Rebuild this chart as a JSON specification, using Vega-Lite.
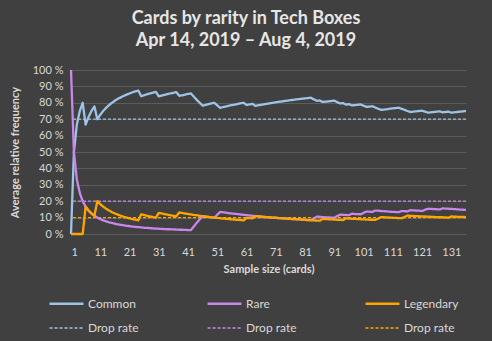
{
 "$schema": "https://vega.github.io/schema/vega-lite/v6.json",
 "width": 395, "height": 164,
 "autosize": {"type": "none"},
 "padding": {"left": 71, "top": 70, "right": 26, "bottom": 107},
 "background": "#404040",
 "title": {"text": ["Cards by rarity in Tech Boxes", "Apr 14, 2019 – Aug 4, 2019"], "font": "Lato", "fontSize": 18, "fontWeight": "bold", "color": "#e6e6e6", "anchor": "middle", "frame": "group", "dx": -22.5, "offset": 14, "lineHeight": 22},
 "config": {
  "view": {"stroke": null},
  "axis": {"labelFont": "Lato", "titleFont": "Lato", "labelColor": "#d9d9d9", "titleColor": "#d9d9d9", "labelFontSize": 11, "titleFontSize": 11, "titleFontWeight": "bold", "domain": false, "ticks": false}
 },
 "datasets": {
  "rates": [{"key": "Drop rate C", "v": 70}, {"key": "Drop rate R", "v": 20}, {"key": "Drop rate L", "v": 10}],
  "freq": [
{"n":1,"Common":0,"Rare":100,"Legendary":0},
{"n":2,"Common":50,"Rare":50,"Legendary":0},
{"n":3,"Common":66.7,"Rare":33.3,"Legendary":0},
{"n":4,"Common":75,"Rare":25,"Legendary":0},
{"n":5,"Common":80,"Rare":20,"Legendary":0},
{"n":6,"Common":66.7,"Rare":16.7,"Legendary":16.7},
{"n":7,"Common":71.4,"Rare":14.3,"Legendary":14.3},
{"n":8,"Common":75,"Rare":12.5,"Legendary":12.5},
{"n":9,"Common":77.8,"Rare":11.1,"Legendary":11.1},
{"n":10,"Common":70,"Rare":10,"Legendary":20},
{"n":11,"Common":72.7,"Rare":9.1,"Legendary":18.2},
{"n":12,"Common":75,"Rare":8.3,"Legendary":16.7},
{"n":13,"Common":76.9,"Rare":7.7,"Legendary":15.4},
{"n":14,"Common":78.6,"Rare":7.1,"Legendary":14.3},
{"n":15,"Common":80,"Rare":6.7,"Legendary":13.3},
{"n":16,"Common":81.3,"Rare":6.3,"Legendary":12.5},
{"n":17,"Common":82.4,"Rare":5.9,"Legendary":11.8},
{"n":18,"Common":83.3,"Rare":5.6,"Legendary":11.1},
{"n":19,"Common":84.2,"Rare":5.3,"Legendary":10.5},
{"n":20,"Common":85,"Rare":5,"Legendary":10},
{"n":21,"Common":85.7,"Rare":4.8,"Legendary":9.5},
{"n":22,"Common":86.4,"Rare":4.5,"Legendary":9.1},
{"n":23,"Common":87,"Rare":4.3,"Legendary":8.7},
{"n":24,"Common":87.5,"Rare":4.2,"Legendary":8.3},
{"n":25,"Common":84,"Rare":4,"Legendary":12},
{"n":26,"Common":84.6,"Rare":3.8,"Legendary":11.5},
{"n":27,"Common":85.2,"Rare":3.7,"Legendary":11.1},
{"n":28,"Common":85.7,"Rare":3.6,"Legendary":10.7},
{"n":29,"Common":86.2,"Rare":3.4,"Legendary":10.3},
{"n":30,"Common":86.7,"Rare":3.3,"Legendary":10},
{"n":31,"Common":83.9,"Rare":3.2,"Legendary":12.9},
{"n":32,"Common":84.4,"Rare":3.1,"Legendary":12.5},
{"n":33,"Common":84.8,"Rare":3,"Legendary":12.1},
{"n":34,"Common":85.3,"Rare":2.9,"Legendary":11.8},
{"n":35,"Common":85.7,"Rare":2.9,"Legendary":11.4},
{"n":36,"Common":86.1,"Rare":2.8,"Legendary":11.1},
{"n":37,"Common":86.5,"Rare":2.7,"Legendary":10.8},
{"n":38,"Common":84.2,"Rare":2.6,"Legendary":13.2},
{"n":39,"Common":84.6,"Rare":2.6,"Legendary":12.8},
{"n":40,"Common":85,"Rare":2.5,"Legendary":12.5},
{"n":41,"Common":85.4,"Rare":2.4,"Legendary":12.2},
{"n":42,"Common":85.7,"Rare":2.4,"Legendary":11.9},
{"n":43,"Common":83.7,"Rare":4.7,"Legendary":11.6},
{"n":44,"Common":81.8,"Rare":6.8,"Legendary":11.4},
{"n":45,"Common":80,"Rare":8.9,"Legendary":11.1},
{"n":46,"Common":78.3,"Rare":10.9,"Legendary":10.9},
{"n":47,"Common":78.7,"Rare":10.6,"Legendary":10.6},
{"n":48,"Common":79.2,"Rare":10.4,"Legendary":10.4},
{"n":49,"Common":79.6,"Rare":10.2,"Legendary":10.2},
{"n":50,"Common":80,"Rare":10,"Legendary":10},
{"n":51,"Common":78.4,"Rare":11.8,"Legendary":9.8},
{"n":52,"Common":76.9,"Rare":13.5,"Legendary":9.6},
{"n":53,"Common":77.4,"Rare":13.2,"Legendary":9.4},
{"n":54,"Common":77.8,"Rare":13,"Legendary":9.3},
{"n":55,"Common":78.2,"Rare":12.7,"Legendary":9.1},
{"n":56,"Common":78.6,"Rare":12.5,"Legendary":8.9},
{"n":57,"Common":78.9,"Rare":12.3,"Legendary":8.8},
{"n":58,"Common":79.3,"Rare":12.1,"Legendary":8.6},
{"n":59,"Common":79.7,"Rare":11.9,"Legendary":8.5},
{"n":60,"Common":80,"Rare":11.7,"Legendary":8.3},
{"n":61,"Common":78.7,"Rare":11.5,"Legendary":9.8},
{"n":62,"Common":79,"Rare":11.3,"Legendary":9.7},
{"n":63,"Common":79.4,"Rare":11.1,"Legendary":9.5},
{"n":64,"Common":78.1,"Rare":10.9,"Legendary":10.9},
{"n":65,"Common":78.5,"Rare":10.8,"Legendary":10.8},
{"n":66,"Common":78.8,"Rare":10.6,"Legendary":10.6},
{"n":67,"Common":79.1,"Rare":10.4,"Legendary":10.4},
{"n":68,"Common":79.4,"Rare":10.3,"Legendary":10.3},
{"n":69,"Common":79.7,"Rare":10.1,"Legendary":10.1},
{"n":70,"Common":80,"Rare":10,"Legendary":10},
{"n":71,"Common":80.3,"Rare":9.9,"Legendary":9.9},
{"n":72,"Common":80.6,"Rare":9.7,"Legendary":9.7},
{"n":73,"Common":80.8,"Rare":9.6,"Legendary":9.6},
{"n":74,"Common":81.1,"Rare":9.5,"Legendary":9.5},
{"n":75,"Common":81.3,"Rare":9.3,"Legendary":9.3},
{"n":76,"Common":81.6,"Rare":9.2,"Legendary":9.2},
{"n":77,"Common":81.8,"Rare":9.1,"Legendary":9.1},
{"n":78,"Common":82.1,"Rare":9,"Legendary":9},
{"n":79,"Common":82.3,"Rare":8.9,"Legendary":8.9},
{"n":80,"Common":82.5,"Rare":8.8,"Legendary":8.8},
{"n":81,"Common":82.7,"Rare":8.6,"Legendary":8.6},
{"n":82,"Common":82.9,"Rare":8.5,"Legendary":8.5},
{"n":83,"Common":83.1,"Rare":8.4,"Legendary":8.4},
{"n":84,"Common":82.1,"Rare":9.5,"Legendary":8.3},
{"n":85,"Common":81.2,"Rare":10.6,"Legendary":8.2},
{"n":86,"Common":81.4,"Rare":10.5,"Legendary":8.1},
{"n":87,"Common":80.5,"Rare":10.3,"Legendary":9.2},
{"n":88,"Common":80.7,"Rare":10.2,"Legendary":9.1},
{"n":89,"Common":80.9,"Rare":10.1,"Legendary":9},
{"n":90,"Common":81.1,"Rare":10,"Legendary":8.9},
{"n":91,"Common":81.3,"Rare":9.9,"Legendary":8.8},
{"n":92,"Common":80.4,"Rare":10.9,"Legendary":8.7},
{"n":93,"Common":79.6,"Rare":11.8,"Legendary":8.6},
{"n":94,"Common":79.8,"Rare":11.7,"Legendary":8.5},
{"n":95,"Common":78.9,"Rare":11.6,"Legendary":9.5},
{"n":96,"Common":79.2,"Rare":11.5,"Legendary":9.4},
{"n":97,"Common":78.4,"Rare":12.4,"Legendary":9.3},
{"n":98,"Common":78.6,"Rare":12.2,"Legendary":9.2},
{"n":99,"Common":78.8,"Rare":12.1,"Legendary":9.1},
{"n":100,"Common":79,"Rare":12,"Legendary":9},
{"n":101,"Common":78.2,"Rare":12.9,"Legendary":8.9},
{"n":102,"Common":77.5,"Rare":13.7,"Legendary":8.8},
{"n":103,"Common":77.7,"Rare":13.6,"Legendary":8.7},
{"n":104,"Common":77.9,"Rare":13.5,"Legendary":8.7},
{"n":105,"Common":77.1,"Rare":14.3,"Legendary":8.6},
{"n":106,"Common":76.4,"Rare":14.2,"Legendary":9.4},
{"n":107,"Common":75.7,"Rare":14,"Legendary":10.3},
{"n":108,"Common":75.9,"Rare":13.9,"Legendary":10.2},
{"n":109,"Common":76.1,"Rare":13.8,"Legendary":10.1},
{"n":110,"Common":76.4,"Rare":13.6,"Legendary":10},
{"n":111,"Common":76.6,"Rare":13.5,"Legendary":9.9},
{"n":112,"Common":76.8,"Rare":13.4,"Legendary":9.8},
{"n":113,"Common":77,"Rare":13.3,"Legendary":9.7},
{"n":114,"Common":76.3,"Rare":14,"Legendary":9.6},
{"n":115,"Common":75.7,"Rare":13.9,"Legendary":10.4},
{"n":116,"Common":75,"Rare":13.8,"Legendary":11.2},
{"n":117,"Common":74.4,"Rare":14.5,"Legendary":11.1},
{"n":118,"Common":74.6,"Rare":14.4,"Legendary":11},
{"n":119,"Common":74.8,"Rare":14.3,"Legendary":10.9},
{"n":120,"Common":75,"Rare":14.2,"Legendary":10.8},
{"n":121,"Common":75.2,"Rare":14,"Legendary":10.7},
{"n":122,"Common":74.6,"Rare":14.8,"Legendary":10.7},
{"n":123,"Common":74,"Rare":15.4,"Legendary":10.6},
{"n":124,"Common":74.2,"Rare":15.3,"Legendary":10.5},
{"n":125,"Common":74.4,"Rare":15.2,"Legendary":10.4},
{"n":126,"Common":74.6,"Rare":15.1,"Legendary":10.3},
{"n":127,"Common":74.8,"Rare":15,"Legendary":10.2},
{"n":128,"Common":74.2,"Rare":15.6,"Legendary":10.2},
{"n":129,"Common":74.4,"Rare":15.5,"Legendary":10.1},
{"n":130,"Common":74.6,"Rare":15.4,"Legendary":10},
{"n":131,"Common":74,"Rare":15.3,"Legendary":10.7},
{"n":132,"Common":74.2,"Rare":15.2,"Legendary":10.6},
{"n":133,"Common":74.4,"Rare":15,"Legendary":10.5},
{"n":134,"Common":74.6,"Rare":14.9,"Legendary":10.4},
{"n":135,"Common":74.8,"Rare":14.8,"Legendary":10.4},
{"n":136,"Common":75,"Rare":14.7,"Legendary":10.3}
  ]
 },
 "layer": [
  {
   "data": {"name": "rates"},
   "mark": {"type": "rule"},
   "encoding": {
    "y": {"field": "v", "type": "quantitative", "scale": {"domain": [0, 100]},
      "axis": {"values": [0,10,20,30,40,50,60,70,80,90,100], "labelExpr": "datum.value + ' %'", "grid": true, "gridColor": "#5c5c5c", "gridWidth": 1, "labelPadding": 8, "title": "Average relative frequency", "titlePadding": 12}},
    "color": {"field": "key", "type": "nominal",
      "scale": {"domain": ["Common", "Rare", "Legendary", "Drop rate C", "Drop rate R", "Drop rate L"], "range": ["#9DC3E6", "#C986EB", "#FFA500", "#9DC3E6", "#C986EB", "#FFA500"]}},
    "strokeDash": {"field": "key", "type": "nominal",
      "scale": {"domain": ["Common", "Rare", "Legendary", "Drop rate C", "Drop rate R", "Drop rate L"], "range": [[1, 0], [1, 0], [1, 0], [3, 2], [3, 2], [3, 2]]}},
    "strokeWidth": {"field": "key", "type": "nominal",
      "scale": {"type": "ordinal", "domain": ["Common", "Rare", "Legendary", "Drop rate C", "Drop rate R", "Drop rate L"], "range": [2.3, 2.3, 2.3, 1.3, 1.3, 1.3]}}
   }
  },
  {
   "data": {"name": "freq"},
   "transform": [{"fold": ["Common", "Rare", "Legendary"], "as": ["key", "v"]}],
   "mark": {"type": "line", "strokeJoin": "round"},
   "encoding": {
    "x": {"field": "n", "type": "quantitative", "scale": {"domain": [1, 136], "nice": false, "zero": false},
      "axis": {"values": [1,11,21,31,41,51,61,71,81,91,101,111,121,131], "grid": false, "labelPadding": 12, "title": "Sample size (cards)", "titlePadding": 6}},
    "y": {"field": "v", "type": "quantitative", "scale": {"domain": [0, 100]},
      "axis": {"values": [0,10,20,30,40,50,60,70,80,90,100], "labelExpr": "datum.value + ' %'", "grid": true, "gridColor": "#5c5c5c", "gridWidth": 1, "labelPadding": 8, "title": "Average relative frequency", "titlePadding": 12}},
    "order": {"field": "n"},
    "color": {"field": "key", "type": "nominal",
      "scale": {"domain": ["Common", "Rare", "Legendary", "Drop rate C", "Drop rate R", "Drop rate L"], "range": ["#9DC3E6", "#C986EB", "#FFA500", "#9DC3E6", "#C986EB", "#FFA500"]},
      "legend": {"title": null, "orient": "none", "legendX": -23, "legendY": 215, "columns": 3, "direction": "horizontal", "symbolType": "stroke", "symbolSize": 1150, "columnPadding": 59, "rowPadding": -13, "labelFont": "Lato", "labelFontSize": 12, "labelColor": "#d9d9d9", "labelOffset": 3, "labelExpr": "substring(datum.label, 0, 4) == 'Drop' ? 'Drop rate' : datum.label", "gridAlign": "all"}},
    "strokeDash": {"field": "key", "type": "nominal",
      "scale": {"domain": ["Common", "Rare", "Legendary", "Drop rate C", "Drop rate R", "Drop rate L"], "range": [[1, 0], [1, 0], [1, 0], [3, 2], [3, 2], [3, 2]]}},
    "strokeWidth": {"field": "key", "type": "nominal",
      "scale": {"type": "ordinal", "domain": ["Common", "Rare", "Legendary", "Drop rate C", "Drop rate R", "Drop rate L"], "range": [2.3, 2.3, 2.3, 1.3, 1.3, 1.3]}}
   }
  }
 ]
}
